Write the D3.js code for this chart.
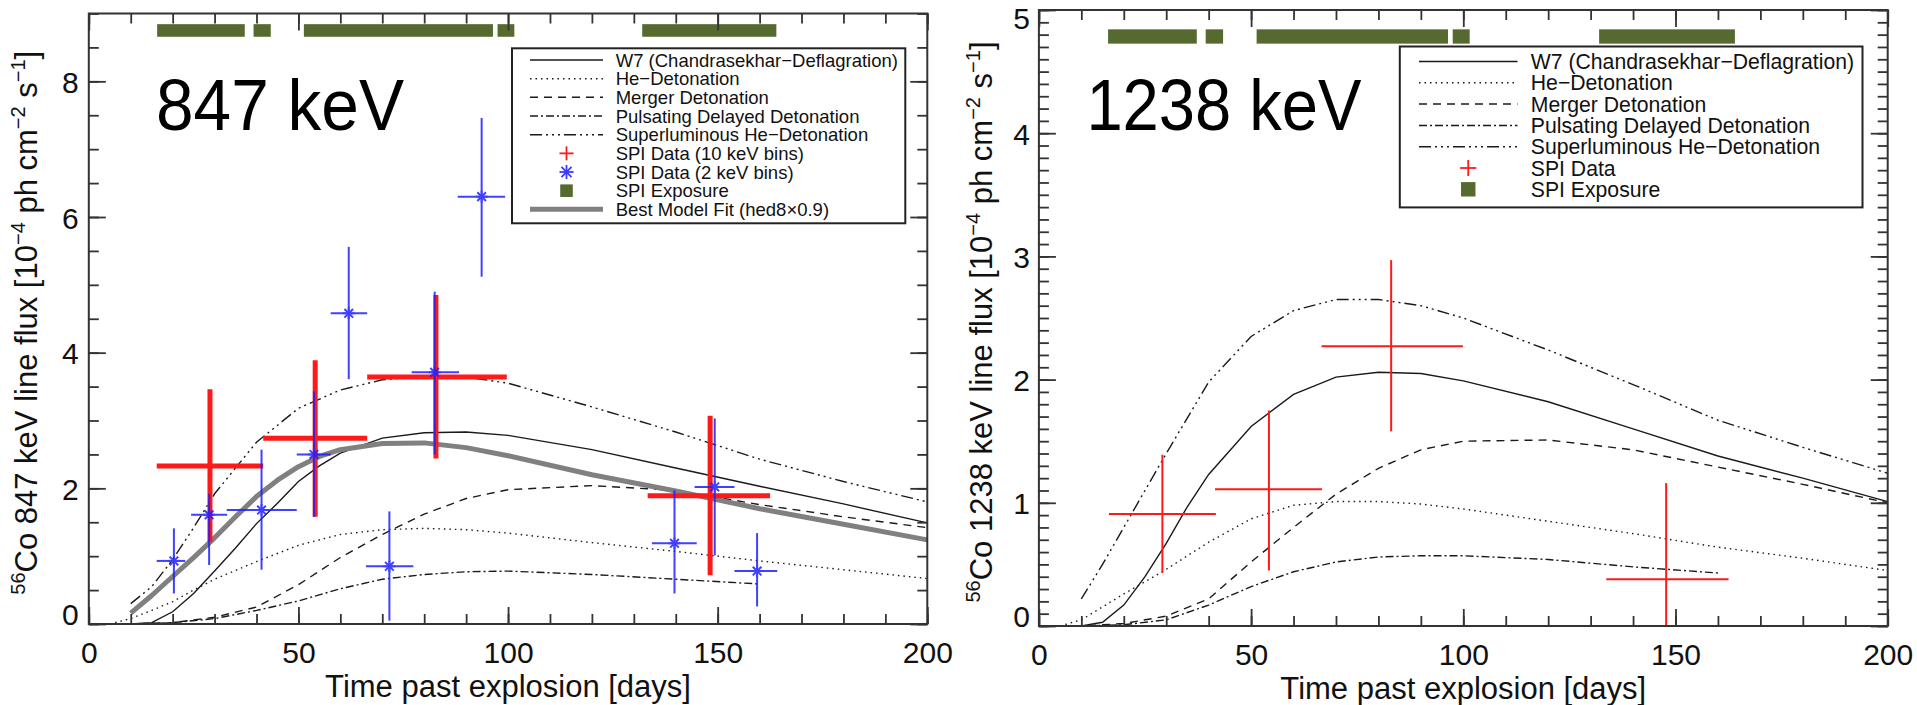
<!DOCTYPE html>
<html>
<head>
<meta charset="utf-8">
<script src="https://cdn.jsdelivr.net/npm/d3@7"></script>
<style>
  html, body { margin: 0; padding: 0; background: #fff; }
  svg { display: block; }
  text { font-family: "Liberation Sans", Arial, Helvetica, sans-serif; }
</style>
</head>
<body>
<svg id="chart" width="1917" height="705"></svg>
<script>
// ---------------- data ----------------
// axis ticks
const xMajorTicks = [0, 50, 100, 150, 200];
const yMajorTicks847 = [0, 2, 4, 6, 8];
const yMajorTicks1238 = [0, 1, 2, 3, 4, 5];

// SPI exposure periods [start, end] in days
const exposure = [[16.3, 37.2], [39.3, 43.4], [51.3, 96.4], [97.5, 101.5], [132, 164]];

// 847 keV model light curves [day, flux 1e-4 ph/cm2/s]
const w7_847 = [[5,0],[10,0],[15,0.02],[20,0.18],[25,0.45],[30,0.78],[35,1.12],[40,1.48],[45,1.78],[50,2.10],[55,2.33],[60,2.52],[70,2.74],[80,2.82],[90,2.83],[100,2.78],[120,2.57],[140,2.30],[160,2.03],[180,1.77],[200,1.49]];
const he_847 = [[5,0],[10,0.08],[15,0.2],[20,0.33],[25,0.5],[30,0.66],[40,0.92],[50,1.16],[60,1.32],[70,1.39],[80,1.41],[90,1.39],[100,1.34],[120,1.2],[140,1.07],[160,0.93],[180,0.8],[200,0.67]];
const merger_847 = [[5,0],[10,0],[20,0.02],[30,0.1],[40,0.25],[50,0.58],[60,0.98],[70,1.32],[80,1.62],[90,1.85],[100,1.98],[120,2.04],[140,1.97],[160,1.76],[180,1.58],[200,1.42]];
const pdd_847 = [[5,0],[10,0],[20,0.02],[30,0.08],[40,0.2],[50,0.34],[60,0.52],[70,0.66],[80,0.73],[90,0.77],[100,0.78],[120,0.73],[140,0.66],[160,0.59]];
const slhe_847 = [[10,0.30],[15,0.55],[20,0.95],[25,1.42],[30,1.92],[40,2.68],[50,3.18],[60,3.45],[70,3.60],[80,3.65],[90,3.64],[100,3.55],[120,3.2],[140,2.83],[160,2.43],[180,2.1],[200,1.8]];
const fit_847 = [[10,0.16],[15,0.42],[20,0.70],[25,0.98],[30,1.27],[35,1.58],[40,1.88],[45,2.12],[50,2.32],[55,2.47],[60,2.57],[70,2.66],[80,2.67],[90,2.60],[100,2.48],[120,2.2],[140,1.96],[160,1.70],[180,1.47],[200,1.24]];

// 847 keV SPI measurements: t (day), t0..t1 (bin), f (flux), f0..f1 (error)
const spi10_847 = [
  {t: 28.9, t0: 16.2, t1: 41.6, f: 2.33, f0: 1.21, f1: 3.46},
  {t: 54.0, t0: 41.6, t1: 66.4, f: 2.74, f0: 1.58, f1: 3.89},
  {t: 82.8, t0: 66.4, t1: 99.7, f: 3.64, f0: 2.44, f1: 4.85},
  {t: 148.2, t0: 133.3, t1: 162.5, f: 1.89, f0: 0.72, f1: 3.07}
];
const spi2_847 = [
  {t: 20.3, t0: 16.2, t1: 23.0, f: 0.93, f0: 0.45, f1: 1.41},
  {t: 28.7, t0: 24.4, t1: 33.0, f: 1.61, f0: 0.87, f1: 1.92},
  {t: 41.2, t0: 32.9, t1: 49.6, f: 1.68, f0: 0.80, f1: 2.57},
  {t: 53.7, t0: 49.6, t1: 57.7, f: 2.50, f0: 1.58, f1: 3.43},
  {t: 62.0, t0: 57.7, t1: 66.4, f: 4.58, f0: 3.61, f1: 5.56},
  {t: 71.7, t0: 66.1, t1: 77.4, f: 0.85, f0: 0.05, f1: 1.66},
  {t: 82.5, t0: 77.0, t1: 88.3, f: 3.71, f0: 2.50, f1: 4.90},
  {t: 93.7, t0: 88.0, t1: 99.3, f: 6.30, f0: 5.12, f1: 7.46},
  {t: 139.7, t0: 134.3, t1: 145.0, f: 1.19, f0: 0.45, f1: 1.97},
  {t: 149.3, t0: 144.5, t1: 154.0, f: 2.02, f0: 1.01, f1: 3.03},
  {t: 159.4, t0: 154.0, t1: 164.2, f: 0.78, f0: 0.26, f1: 1.34}
];

// 1238 keV model light curves
const w7_1238 = [[5,0],[10,0],[15,0.03],[20,0.17],[25,0.40],[30,0.67],[35,0.97],[40,1.23],[50,1.62],[60,1.88],[70,2.02],[80,2.06],[90,2.05],[100,1.99],[120,1.82],[140,1.60],[160,1.38],[180,1.20],[200,1.01]];
const he_1238 = [[5,0],[10,0.05],[20,0.26],[30,0.46],[40,0.68],[50,0.87],[60,0.98],[70,1.01],[80,1.01],[90,0.99],[100,0.95],[120,0.85],[140,0.75],[160,0.64],[180,0.55],[200,0.45]];
const merger_1238 = [[5,0],[10,0],[20,0.02],[30,0.08],[40,0.22],[50,0.52],[60,0.80],[70,1.07],[80,1.28],[90,1.43],[100,1.50],[120,1.51],[140,1.43],[160,1.29],[180,1.15],[200,1.0]];
const pdd_1238 = [[5,0],[10,0],[20,0.01],[30,0.05],[40,0.17],[50,0.32],[60,0.44],[70,0.52],[80,0.56],[90,0.57],[100,0.57],[120,0.54],[140,0.48],[160,0.43]];
const slhe_1238 = [[10,0.22],[15,0.50],[20,0.80],[30,1.40],[40,1.98],[50,2.35],[60,2.56],[70,2.65],[80,2.65],[90,2.60],[100,2.50],[120,2.24],[140,1.96],[160,1.67],[180,1.45],[200,1.24]];

const spi_1238 = [
  {t: 29.1, t0: 16.5, t1: 41.7, f: 0.91, f0: 0.43, f1: 1.39},
  {t: 54.2, t0: 41.5, t1: 66.7, f: 1.11, f0: 0.45, f1: 1.75},
  {t: 83.0, t0: 66.6, t1: 99.9, f: 2.27, f0: 1.58, f1: 2.97},
  {t: 147.8, t0: 133.7, t1: 162.5, f: 0.38, f0: -0.40, f1: 1.16}
];

// legend labels
const legend847 = ["W7 (Chandrasekhar\u2212Deflagration)", "He\u2212Detonation", "Merger Detonation",
  "Pulsating Delayed Detonation", "Superluminous He\u2212Detonation", "SPI Data (10 keV bins)",
  "SPI Data (2 keV bins)", "SPI Exposure", "Best Model Fit (hed8\u00d70.9)"];
const legend1238 = ["W7 (Chandrasekhar\u2212Deflagration)", "He\u2212Detonation", "Merger Detonation",
  "Pulsating Delayed Detonation", "Superluminous He\u2212Detonation", "SPI Data", "SPI Exposure"];

// ---------------- styling ----------------
const INK = "#1a1a1a";
const AXIS = "#333";
const GREEN = "#566a30";
const RED = "#ff1a1a";
const BLUE = "#1f1fff";
const FITGRAY = "#808080";
const DASH = {
  w7: null,
  he: "1.5 4",
  merger: "8 6",
  pdd: "8 3 2 3",
  slhe: "12 4 2 4 2 4 2 4"
};

const svg = d3.select("#chart");
const defs = svg.append("defs");

function asterisk(g, cx, cy, r, color, w) {
  const a = r * 0.72;
  const segs = [[-r,0,r,0],[0,-r,0,r],[-a,-a,a,a],[-a,a,a,-a]];
  segs.forEach(s => g.append("line")
    .attr("x1", cx + s[0]).attr("y1", cy + s[1]).attr("x2", cx + s[2]).attr("y2", cy + s[3])
    .attr("stroke", color).attr("stroke-width", w));
}

function errorCross(g, x, y, d, color, w) {
  g.append("line").attr("x1", x(d.t0)).attr("x2", x(d.t1)).attr("y1", y(d.f)).attr("y2", y(d.f))
    .attr("stroke", color).attr("stroke-width", w);
  g.append("line").attr("x1", x(d.t)).attr("x2", x(d.t)).attr("y1", y(d.f0)).attr("y2", y(d.f1))
    .attr("stroke", color).attr("stroke-width", w);
}

function panel(cfg) {
  const {left, right, top, bottom} = cfg;
  const x = d3.scaleLinear().domain([0, 200]).range([left, right]);
  const y = d3.scaleLinear().domain([0, cfg.ymax]).range([bottom, top]);
  const g = svg.append("g");

  defs.append("clipPath").attr("id", "clip" + cfg.id)
    .append("rect").attr("x", left).attr("y", top).attr("width", right - left).attr("height", bottom - top);
  const plot = g.append("g").attr("clip-path", `url(#clip${cfg.id})`);

  // exposure bars
  plot.selectAll("rect.exp").data(exposure).join("rect")
    .attr("class", "exp")
    .attr("x", d => x(d[0])).attr("width", d => x(d[1]) - x(d[0]))
    .attr("y", y(cfg.expLevel) - cfg.expH / 2).attr("height", cfg.expH)
    .attr("fill", GREEN);

  // model curves
  const line = d3.line().x(d => x(d[0])).y(d => y(d[1]));
  cfg.models.forEach(m => {
    plot.append("path").attr("d", line(m.data))
      .attr("fill", "none").attr("stroke", INK).attr("stroke-width", 1.4)
      .attr("stroke-dasharray", DASH[m.key]);
  });
  if (cfg.fit) {
    plot.append("path").attr("d", line(cfg.fit))
      .attr("fill", "none").attr("stroke", FITGRAY).attr("stroke-width", 5)
      .attr("stroke-linejoin", "round");
  }

  // measurements
  cfg.red.forEach(d => errorCross(plot, x, y, d, RED, cfg.redW));
  (cfg.blue || []).forEach(d => {
    const bg = plot.append("g").attr("opacity", 0.85);
    errorCross(bg, x, y, d, BLUE, 2);
    asterisk(bg, x(d.t), y(d.f), 6, BLUE, 2);
  });

  // axes with inward ticks on all four sides
  const yMinor = d3.range(0, cfg.ymax + 1e-9, cfg.yMinorStep).map(v => +v.toFixed(3));
  const xMinor = d3.range(0, 201, 10);
  const ax = g.append("g");
  const style = sel => {
    sel.select(".domain").remove();
    sel.selectAll(".tick line").attr("stroke", AXIS).attr("stroke-width", 1.8);
    sel.attr("font-size", 30).attr("font-family", "'Liberation Sans', Arial, Helvetica, sans-serif");
    sel.selectAll(".tick text").attr("fill", "#111");
  };
  ax.append("g").attr("transform", `translate(0,${bottom})`)
    .call(d3.axisBottom(x).tickValues(xMinor).tickSize(-10).tickFormat("")).call(style);
  ax.append("g").attr("transform", `translate(0,${bottom})`)
    .call(d3.axisBottom(x).tickValues(xMajorTicks).tickSize(-17).tickPadding(18).tickFormat(d3.format("d"))).call(style);
  ax.append("g").attr("transform", `translate(0,${top})`)
    .call(d3.axisTop(x).tickValues(xMinor).tickSize(-10).tickFormat("")).call(style);
  ax.append("g").attr("transform", `translate(0,${top})`)
    .call(d3.axisTop(x).tickValues(xMajorTicks).tickSize(-17).tickFormat("")).call(style);
  ax.append("g").attr("transform", `translate(${left},0)`)
    .call(d3.axisLeft(y).tickValues(yMinor).tickSize(-10).tickFormat("")).call(style);
  const yl = ax.append("g").attr("transform", `translate(${left},0)`)
    .call(d3.axisLeft(y).tickValues(cfg.yMajor).tickSize(-17).tickPadding(cfg.yPad).tickFormat(d3.format("d"))).call(style);
  // keep the end labels inside the frame's vertical extent
  yl.selectAll(".tick text").attr("dy", d => {
    if (d === 0) return "0em";
    const room = y(d) - top;
    return room < 8 ? "0.6em" : "0.37em";
  });
  ax.append("g").attr("transform", `translate(${right},0)`)
    .call(d3.axisRight(y).tickValues(yMinor).tickSize(-10).tickFormat("")).call(style);
  ax.append("g").attr("transform", `translate(${right},0)`)
    .call(d3.axisRight(y).tickValues(cfg.yMajor).tickSize(-17).tickFormat("")).call(style);

  // frame
  g.append("rect").attr("x", left).attr("y", top).attr("width", right - left).attr("height", bottom - top)
    .attr("fill", "none").attr("stroke", AXIS).attr("stroke-width", 2);

  // axis titles
  g.append("text").attr("x", (left + right) / 2).attr("y", bottom + 73)
    .attr("text-anchor", "middle").attr("font-size", 31).attr("fill", "#111")
    .text("Time past explosion [days]");

  const yt = g.append("text")
    .attr("transform", `translate(${cfg.yTitleX},${(top + bottom) / 2 + 4}) rotate(-90)`)
    .attr("text-anchor", "middle").attr("font-size", 31).attr("fill", "#111");
  const sup = (t) => yt.append("tspan").attr("font-size", 20).attr("dy", -12).text(t);
  const base = (t) => yt.append("tspan").attr("font-size", 31).attr("dy", 12).text(t);
  yt.append("tspan").attr("font-size", 20).attr("dy", -12).text("56");
  base(`Co ${cfg.line} keV line flux [10`);
  sup("\u22124"); base(" ph cm"); sup("\u22122"); base(" s"); sup("\u22121"); base("]");

  // line energy label
  g.append("text").attr("x", cfg.bigX).attr("y", 130.4)
    .attr("font-family", "'Noto Sans', 'DejaVu Sans', sans-serif")
    .attr("font-size", 72).attr("fill", "#000")
    .attr("textLength", cfg.bigW).attr("lengthAdjust", "spacingAndGlyphs")
    .text(`${cfg.line} keV`);

  // legend
  const L = cfg.legend;
  const lg = g.append("g");
  lg.append("rect").attr("x", L.x0).attr("y", L.y0).attr("width", L.x1 - L.x0).attr("height", L.y1 - L.y0)
    .attr("fill", "#fff").attr("stroke", "#222").attr("stroke-width", 2);
  L.labels.forEach((lab, i) => {
    const ry = L.row0 + i * L.step;
    const key = L.keys[i];
    const mx = (L.s0 + L.s1) / 2;
    if (key in DASH) {
      lg.append("line").attr("x1", L.s0).attr("x2", L.s1).attr("y1", ry).attr("y2", ry)
        .attr("stroke", INK).attr("stroke-width", 1.5).attr("stroke-dasharray", DASH[key]);
    } else if (key === "fit") {
      lg.append("line").attr("x1", L.s0).attr("x2", L.s1).attr("y1", ry).attr("y2", ry)
        .attr("stroke", FITGRAY).attr("stroke-width", 5);
    } else if (key === "red") {
      const h = L.font * 0.38;
      lg.append("line").attr("x1", mx - h).attr("x2", mx + h).attr("y1", ry).attr("y2", ry).attr("stroke", RED).attr("stroke-width", 1.8);
      lg.append("line").attr("x1", mx).attr("x2", mx).attr("y1", ry - h).attr("y2", ry + h).attr("stroke", RED).attr("stroke-width", 1.8);
    } else if (key === "blue") {
      asterisk(lg, mx, ry, 7, "#3a3aff", 1.8);
    } else if (key === "exp") {
      const s = L.font * 0.68;
      lg.append("rect").attr("x", mx - s / 2).attr("y", ry - s / 2).attr("width", s).attr("height", s).attr("fill", GREEN);
    }
    lg.append("text").attr("x", L.tx).attr("y", ry).attr("dy", "0.36em")
      .attr("font-size", L.font).attr("fill", "#111").text(lab);
  });
}

panel({
  id: "847", line: "847",
  left: 88.8, right: 927.3, top: 13.5, bottom: 624, ymax: 9,
  yMajor: yMajorTicks847, yMinorStep: 0.5, yPad: 10,
  expLevel: 8.75, expH: 12.6,
  models: [
    {key: "w7", data: w7_847}, {key: "he", data: he_847}, {key: "merger", data: merger_847},
    {key: "pdd", data: pdd_847}, {key: "slhe", data: slhe_847}
  ],
  fit: fit_847,
  red: spi10_847, redW: 5,
  blue: spi2_847,
  yTitleX: 37,
  bigX: 156, bigW: 248,
  legend: {
    x0: 512, x1: 905.3, y0: 48.3, y1: 223.3, row0: 60, step: 18.67,
    s0: 530, s1: 603, tx: 615.7, font: 18.5,
    labels: legend847, keys: ["w7", "he", "merger", "pdd", "slhe", "red", "blue", "exp", "fit"]
  }
});

panel({
  id: "1238", line: "1238",
  left: 1038.9, right: 1887.7, top: 10, bottom: 626, ymax: 5,
  yMajor: yMajorTicks1238, yMinorStep: 0.1, yPad: 9,
  expLevel: 4.785, expH: 14.3,
  models: [
    {key: "w7", data: w7_1238}, {key: "he", data: he_1238}, {key: "merger", data: merger_1238},
    {key: "pdd", data: pdd_1238}, {key: "slhe", data: slhe_1238}
  ],
  fit: null,
  red: spi_1238, redW: 2,
  blue: null,
  yTitleX: 992,
  bigX: 1086.4, bigW: 275,
  legend: {
    x0: 1399.8, x1: 1862.5, y0: 46.5, y1: 207.4, row0: 61.5, step: 21.3,
    s0: 1419, s1: 1517.5, tx: 1530.8, font: 21.2,
    labels: legend1238, keys: ["w7", "he", "merger", "pdd", "slhe", "red", "exp"]
  }
});
</script>
</body>
</html>
